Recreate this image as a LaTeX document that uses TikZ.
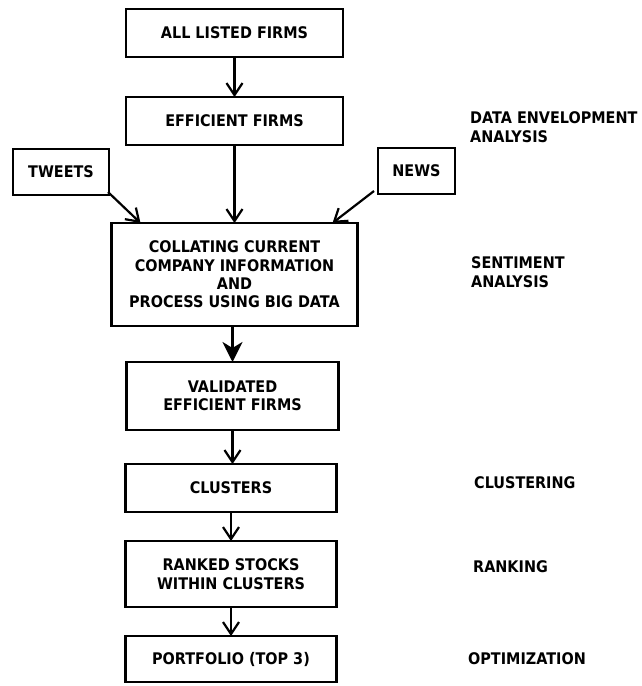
\documentclass[tikz,border=0pt]{standalone}
\usepackage{fontspec}
\setmainfont{DejaVu Sans}
\newfontfamily\flowfont{DejaVu Sans}[FakeStretch=0.9]
\usetikzlibrary{positioning, arrows.meta}
\tikzset{
  >={Straight Barb[length=12pt,width=16pt]},
  node distance=36pt,
  block/.style={draw, line width=2.6pt, outer sep=0pt, inner sep=0pt,
    align=center, font=\flowfont\bfseries\fontsize{16}{18.4}\selectfont},
  phaselabel/.style={anchor=west, align=left, inner sep=0pt,
    font=\flowfont\bfseries\fontsize{16}{19}\selectfont},
  flow/.style={->, line width=2.2pt},
}

\begin{document}
\begin{tikzpicture}[x=1pt, y=-1pt]
      \useasboundingbox (0,0) rectangle (641,686);

      \node[block, minimum width=217pt, minimum height=48pt] (all) at (234.5,33) {ALL LISTED FIRMS};
      \node[block, minimum width=217pt, minimum height=48pt, below=40pt of all] (eff) {EFFICIENT FIRMS};
      \node[block, minimum width=246pt, minimum height=103pt, below=78pt of eff] (collate)
        {COLLATING CURRENT\\COMPANY INFORMATION\\AND\\PROCESS USING BIG DATA};
      \node[block, minimum width=212pt, minimum height=68pt, below=36pt of collate, xshift=-2pt] (valid)
        {VALIDATED\\EFFICIENT FIRMS};
      \node[block, minimum width=211pt, minimum height=48pt, below=34pt of valid, xshift=-1.5pt] (clusters) {CLUSTERS};
      \node[block, minimum width=211pt, minimum height=66pt, below=29pt of clusters] (ranked)
        {RANKED STOCKS\\WITHIN CLUSTERS};
      \node[block, minimum width=211pt, minimum height=46pt, below=29pt of ranked] (portfolio) {PORTFOLIO (TOP 3)};

      \node[block, minimum width=96pt, minimum height=46pt] (tweets) at (61,172) {TWEETS};
      \node[block, minimum width=77pt, minimum height=46pt] (news) at (416.5,171) {NEWS};

      % stages on the right
      \node[phaselabel] (dea) at (470,127.5) {DATA ENVELOPMENT\\ANALYSIS};
      \node[phaselabel] (senti) at (471,272.5) {SENTIMENT\\ANALYSIS};
      \node[phaselabel] (clust) at (474,483) {CLUSTERING};
      \node[phaselabel] (rank) at (473,567) {RANKING};
      \node[phaselabel] (optim) at (468,659) {OPTIMIZATION};

      \draw[flow] (all) -- (eff);
      \draw[flow] (eff) -- (collate);
      \draw[flow] ([shift={(-1pt,3pt)}]tweets.south east) -- ([xshift=29pt]collate.north west);
      \draw[flow] ([shift={(-4pt,3pt)}]news.south west) -- ([xshift=-25pt]collate.north east);
      \draw[line width=2.6pt, -{Stealth[length=20pt,width=20pt,inset=6pt]}]
        (collate.south -| valid) -- (valid);
      \draw[flow] (valid) -- (valid |- clusters.north);
      \draw[flow] (clusters) -- (ranked);
      \draw[flow] (ranked) -- (portfolio);
    \end{tikzpicture}
\end{document}
